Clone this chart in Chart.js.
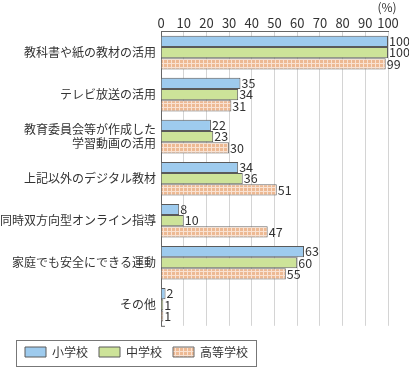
<!DOCTYPE html>
<html>
<head>
<meta charset="utf-8">
<script src="https://cdn.jsdelivr.net/npm/chart.js@4"></script>
<style>
  html, body { margin: 0; padding: 0; background: #fff; }
  #wrap { width: 409px; height: 370px; position: relative; }
</style>
</head>
<body>
<div id="wrap"><canvas id="chart"></canvas></div>
<script>
const categories = [
  '教科書や紙の教材の活用',
  'テレビ放送の活用',
  ['教育委員会等が作成した', '学習動画の活用'],
  '上記以外のデジタル教材',
  '同時双方向型オンライン指導',
  '家庭でも安全にできる運動',
  'その他'
];
const seriesNames = ['小学校', '中学校', '高等学校'];
const elementary = [100, 35, 22, 34, 8, 63, 2];
const juniorHigh = [100, 34, 23, 36, 10, 60, 1];
const highSchool = [99, 31, 30, 51, 47, 55, 1];
const tickValues = [0, 10, 20, 30, 40, 50, 60, 70, 80, 90, 100];

const FONT = '"Noto Sans CJK JP", "Noto Sans", sans-serif';
const TEXT = '#333';

// hatched orange fill
function makeHatch() {
  const c = document.createElement('canvas');
  c.width = 4; c.height = 4;
  const g = c.getContext('2d');
  g.fillStyle = '#edb993';
  g.fillRect(0, 0, 4, 4);
  g.fillStyle = '#f9e2d2';
  g.fillRect(3, 0, 1, 4);
  g.fillRect(0, 3, 4, 1);
  return g.createPattern(c, 'repeat');
}
const hatch = makeHatch();

const valueLabels = {
  id: 'valueLabels',
  afterDatasetsDraw(chart) {
    const ctx = chart.ctx;
    ctx.save();
    ctx.font = '12.5px ' + FONT;
    ctx.fillStyle = TEXT;
    ctx.textBaseline = 'middle';
    ctx.textAlign = 'left';
    chart.data.datasets.forEach((ds, i) => {
      chart.getDatasetMeta(i).data.forEach((bar, j) => {
        ctx.fillText(String(ds.data[j]), bar.x + 1, bar.y);
      });
    });
    ctx.restore();
  }
};

const extras = {
  id: 'extras',
  afterLayout(chart) {
    // nudge the legend a little to the right, like the original
    chart.legend.left += 14;
    chart.legend.right += 14;
  },
  afterDraw(chart) {
    const ctx = chart.ctx;
    const x = chart.scales.x;
    const a = chart.chartArea;
    ctx.save();
    // unit label above 100
    ctx.font = '12px ' + FONT;
    ctx.fillStyle = TEXT;
    ctx.textAlign = 'center';
    ctx.textBaseline = 'middle';
    ctx.fillText('(%)', x.getPixelForValue(100) - 1, 7);
    // small tick at bottom of left axis
    ctx.strokeStyle = '#666';
    ctx.lineWidth = 1;
    ctx.beginPath();
    ctx.moveTo(a.left, a.bottom + 0.5);
    ctx.lineTo(a.left + 4, a.bottom + 0.5);
    ctx.stroke();
    // legend frame
    const lg = chart.legend;
    if (lg && lg.legendHitBoxes.length) {
      const hb = lg.legendHitBoxes;
      const l = hb[0].left - 9;
      const last = hb[hb.length - 1];
      const r = last.left + last.width + 8;
      const t = hb[0].top + hb[0].height / 2 - 12;
      ctx.strokeStyle = '#777';
      ctx.strokeRect(Math.round(l) + 0.5, Math.round(t) + 0.5, Math.round(r - l), 26);
    }
    ctx.restore();
  }
};

document.addEventListener('DOMContentLoaded', function () {
  const ctx = document.getElementById('chart').getContext('2d');

  new Chart(ctx, {
    type: 'bar',
    data: {
      labels: categories,
      datasets: [
        { label: seriesNames[0], data: elementary, backgroundColor: '#9ecbee', borderColor: '#5a5a5a', borderWidth: 1 },
        { label: seriesNames[1], data: juniorHigh, backgroundColor: '#cde399', borderColor: '#5a5a5a', borderWidth: 1 },
        { label: seriesNames[2], data: highSchool, backgroundColor: hatch, borderColor: '#6a6a6a', borderWidth: 1 }
      ]
    },
    options: {
      indexAxis: 'y',
      responsive: true,
      maintainAspectRatio: false,
      animation: false,
      categoryPercentage: 0.8,
      barPercentage: 1.0,
      layout: { padding: { top: 14, right: 21, left: 0, bottom: 2 } },
      scales: {
        x: {
          position: 'top',
          min: 0,
          max: 100,
          afterBuildTicks(s) { s.ticks = tickValues.map(v => ({ value: v })); },
          ticks: { color: TEXT, font: { family: FONT, size: 13 }, padding: 1, maxRotation: 0, autoSkip: false },
          grid: { color: '#d4d4d4', drawTicks: false },
          border: { color: '#666' }
        },
        y: {
          afterFit(s) { s.width = 161; },
          ticks: { color: TEXT, font: { family: FONT, size: 12 }, padding: 5 },
          grid: { display: false, drawTicks: false },
          border: { color: '#666' }
        }
      },
      plugins: {
        legend: {
          position: 'bottom',
          align: 'start',
          // empty title only used as spacing above the legend row
          title: { display: true, text: '', font: { size: 1 }, padding: 4 },
          labels: {
            color: TEXT,
            font: { family: FONT, size: 12 },
            boxWidth: 21,
            boxHeight: 10,
            padding: 11
          }
        },
        tooltip: { enabled: false }
      }
    },
    plugins: [valueLabels, extras]
  });
});
</script>
</body>
</html>
